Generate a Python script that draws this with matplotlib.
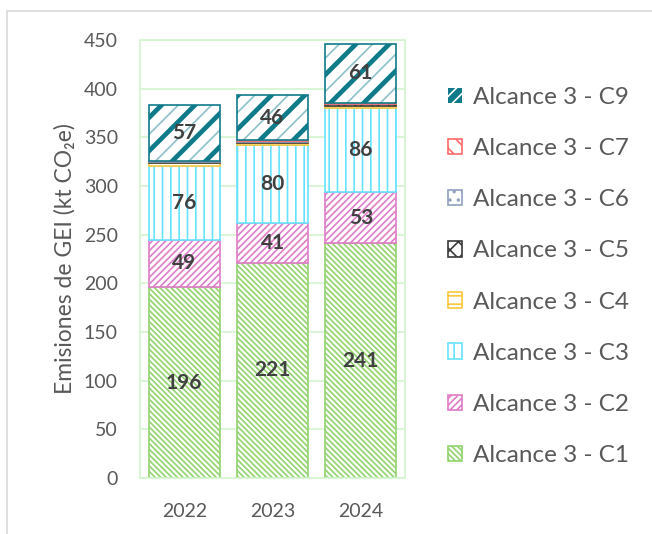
import matplotlib
matplotlib.use("Agg")
import matplotlib.pyplot as plt
import numpy as np
from matplotlib.patches import Rectangle, Patch

# ── Datos ────────────────────────────────────────────────────────────────
years = ["2022", "2023", "2024"]
c1 = [196, 221, 241]
c2 = [49, 41, 53]
c3 = [76, 80, 86]
c4 = [2.5, 2.4, 2.6]
c5 = [1.2, 1.2, 1.2]
c6 = [0.5, 0.5, 0.5]
c7 = [1.0, 1.0, 1.0]
c9 = [57, 46, 61]

series = [
    ("Alcance 3 - C1", c1, "#92d36e", "\\" * 6, True),
    ("Alcance 3 - C2", c2, "#e07cc8", "/" * 5, True),
    ("Alcance 3 - C3", c3, "#66e3ff", "||", True),
    ("Alcance 3 - C4", c4, "#ffc73a", "--", False),
    ("Alcance 3 - C5", c5, "#3a3a3a", "xx", False),
    ("Alcance 3 - C6", c6, "#8fa0c0", "..", False),
    ("Alcance 3 - C7", c7, "#ff6b6b", "\\\\", False),
    ("Alcance 3 - C9", c9, "#0f7a8a", "/", True),
]

TEXT = "#595959"
LABEL = "#404040"
GRID = "#d4f5cf"
FONT = ["Lato", "DejaVu Sans"]

plt.rcParams["font.family"] = FONT
plt.rcParams["hatch.linewidth"] = 1.2

fig = plt.figure(figsize=(6.52, 5.34), dpi=100)
fig.patches.append(Rectangle((7 / 652, -0.1), 1.2, 1 - 11 / 534 + 0.1,
                             transform=fig.transFigure, fill=False,
                             edgecolor="#d9d9d9", linewidth=1.2))
ax = fig.add_axes([0.215, 0.105, 0.406, 0.82])

x = np.arange(len(years))
bottom = np.zeros(len(years))
handles = {}
for name, vals, color, hatch, show in series:
    vals = np.array(vals, dtype=float)
    if name.endswith("C9"):
        ax.bar(x, vals, 0.8, bottom=bottom, color="white", edgecolor="#8cc0c8",
               hatch="//", linewidth=0, zorder=2)
        with plt.rc_context({"hatch.linewidth": 3.4}):
            bars = ax.bar(x, vals, 0.8, bottom=bottom, color="none", edgecolor=color,
                          hatch=hatch, linewidth=1.2, zorder=3)
            if hasattr(bars[0], "set_hatch_linewidth"):
                for b in bars:
                    b.set_hatch_linewidth(3.4)
        # handle de leyenda: relleno teal con rayas blancas
        with plt.rc_context({"hatch.linewidth": 2.0}):
            bars = Patch(facecolor=color, edgecolor="white", hatch="///", linewidth=0)
    else:
        bars = ax.bar(x, vals, 0.8, bottom=bottom, color="white", edgecolor=color,
                      hatch=hatch, linewidth=1.2, zorder=2)
    handles[name] = bars
    if show:
        for xi, b, v in zip(x, bottom, vals):
            ax.text(xi, b + v / 2, f"{v:.0f}", ha="center", va="center",
                    color=LABEL, fontsize=15, fontweight="bold", zorder=5,
                    family=FONT)
    bottom += vals

ax.set_xlim(-0.5, 2.5)
ax.set_ylim(0, 450)
ax.set_yticks(np.arange(0, 451, 50))
ax.set_xticks(x)
ax.set_xticklabels(years)
ax.tick_params(length=0, colors=TEXT, labelsize=14)
ax.tick_params(axis="y", pad=16)
ax.tick_params(axis="x", pad=18)
ax.grid(axis="y", color=GRID, linewidth=1.2, zorder=0)
ax.set_axisbelow(True)
for spine in ax.spines.values():
    spine.set_color(GRID)
    spine.set_linewidth(1.2)
ax.set_ylabel("Emisiones de GEI (kt CO₂e)", color=TEXT, fontsize=16.5, labelpad=6)

names = [s[0] for s in series][::-1]
leg = fig.legend([handles[n] for n in names], names,
                 loc="upper left", bbox_to_anchor=(0.653, 0.878),
                 frameon=False, fontsize=17.5, labelspacing=1.24,
                 handlelength=0.6, handleheight=0.6, handletextpad=0.45)
for t in leg.get_texts():
    t.set_color(TEXT)

plt.savefig("out.png", dpi=100, facecolor="white")
